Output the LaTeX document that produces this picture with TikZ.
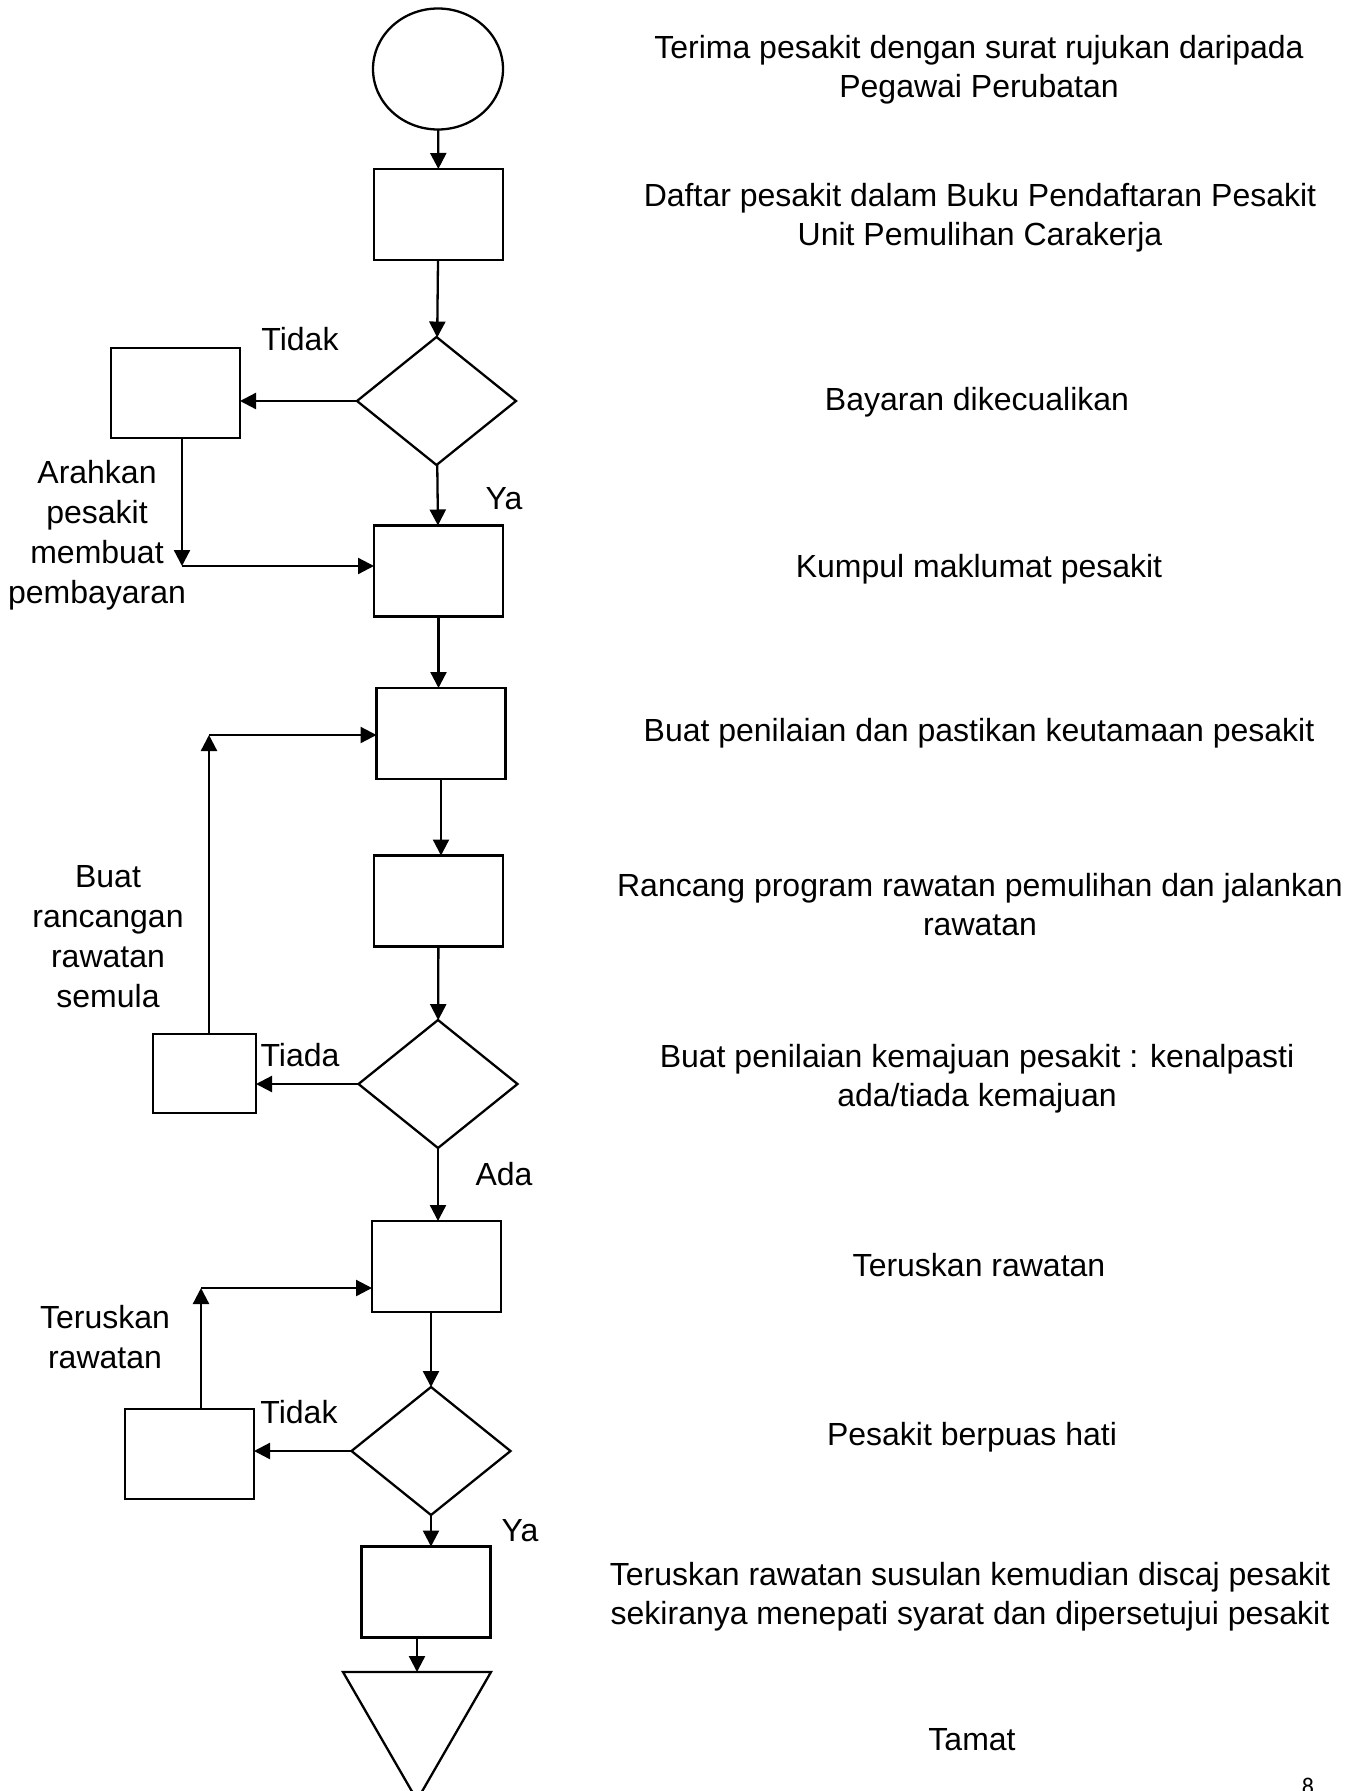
\documentclass[tikz,border=0pt]{standalone}
\usepackage{fontspec}
\setmainfont{Liberation Sans}
\newfontfamily\pagefont{Carlito}
\usepackage{tikz}
\usetikzlibrary{shapes,arrows,arrows.meta}

\begin{document}
\begin{tikzpicture}[x=0.5pt, y=-0.5pt, line width=1.15pt]%
  \tikzset{flow/.style={draw,-{Triangle[length=8pt,width=8pt]},line width=1.15pt}}
  \tikzset{stepbox/.style={draw,rectangle,minimum width=64.5pt,minimum height=45.5pt}}
  \tikzset{sidebox/.style={draw,rectangle,minimum width=64.5pt,minimum height=45pt}}
  \tikzset{decision/.style={draw,diamond,minimum width=79.5pt,minimum height=64pt}}
  \tikzset{note/.style={yshift=-2pt}}
  \tikzstyle{every node}=[inner sep=0pt, outer sep=0pt, align=center, font=\fontsize{16}{19.5}\selectfont]

  \useasboundingbox (0,0) rectangle (1356,1791);

  % main column
  \node[draw,ellipse,minimum width=65pt,minimum height=60.5pt] at (438,69) (mula) {};
  \node[stepbox] at (438.5,214.5) (daftar) {};
  \node[decision] at (436.5,401) (bayar) {};
  \node[stepbox] at (438.5,571) (kumpul) {};
  \node[stepbox] at (441,733.5) (nilai) {};
  \node[stepbox] at (438.5,901) (rancang) {};
  \node[decision] at (438,1084) (kemajuan) {};
  \node[stepbox] at (436.5,1266.5) (terus) {};
  \node[decision] at (431,1451) (puas) {};
  \node[stepbox] at (426,1592) (susulan) {};
  \node[draw,regular polygon,regular polygon sides=3,shape border rotate=180,minimum size=85.45pt] at (417,1714.7) (tamat) {};
  \coordinate (tamatAtas) at (417,1672);

  % side column
  \node[sidebox] at (175.5,393) (arah) {};
  \node[draw,rectangle,minimum width=51.5pt,minimum height=39.5pt] at (204.5,1073.5) (semula) {};
  \node[sidebox] at (189.5,1454) (ulang) {};

  \coordinate (j1) at (182,566);
  \coordinate (j2) at (209,735);
  \coordinate (j3) at (201,1288);

  % answers
  \node[note] at (300,335) (tidak1) {Tidak};
  \node[note] at (504,495) (ya1) {Ya};
  \node[note] at (300,1051) (tiada) {Tiada};
  \node[note] at (504,1170) (ada) {Ada};
  \node[note] at (299,1408) (tidak2) {Tidak};
  \node[note] at (520,1527) (ya2) {Ya};

  % side notes
  \node[note,font=\fontsize{16}{20}\selectfont] at (97,531) (nArah) {Arahkan\\pesakit\\membuat\\pembayaran};
  \node[note,font=\fontsize{16}{20}\selectfont] at (108,933) (nSemula) {Buat\\rancangan\\rawatan\\semula};
  \node[note,font=\fontsize{16}{20}\selectfont] at (105,1333) (nUlang) {Teruskan\\rawatan};

  % descriptions
  \node[note] at (979,65.5) (tMula) {Terima pesakit dengan surat rujukan daripada\\Pegawai Perubatan};
  \node[note] at (980,213.5) (tDaftar) {Daftar pesakit dalam Buku Pendaftaran Pesakit\\Unit Pemulihan Carakerja};
  \node[note] at (977,398) (tBayar) {Bayaran dikecualikan};
  \node[note] at (979,565) (tKumpul) {Kumpul maklumat pesakit};
  \node[note] at (979,729) (tNilai) {Buat penilaian dan pastikan keutamaan pesakit};
  \node[note] at (980,900.5) (tRancang) {Rancang program rawatan pemulihan dan jalankan\\rawatan};
  \node[note] at (977,1075) (tKemajuan) {Buat penilaian kemajuan pesakit : kenalpasti\\ada/tiada kemajuan};
  \node[note] at (979,1261) (tTerus) {Teruskan rawatan};
  \node[note] at (972,1433) (tPuas) {Pesakit berpuas hati};
  \node[note] at (970,1592.5) (tSusulan) {Teruskan rawatan susulan kemudian discaj pesakit\\sekiranya menepati syarat dan dipersetujui pesakit};
  \node[note] at (972,1736) (tTamat) {Tamat};
  \node[font=\pagefont\fontsize{12}{14}\selectfont] at (1308,1786) (muka) {8};

  \path[flow] (mula) -- (daftar);
  \path[flow] (daftar) -- (bayar);
  \path[flow] (bayar.west) -- (bayar.west -| arah.east);
  \path[flow] (arah.south -| j1) -- (j1);
  \path[flow] (j1) -- (j1 -| kumpul.west);
  \path[flow] (bayar) -- (kumpul);
  \path[flow] (kumpul) -- (nilai.north -| kumpul);
  \path[flow] (nilai) -- (rancang.north -| nilai);
  \path[flow] (rancang) -- (kemajuan);
  \path[flow] (kemajuan.west) -- (kemajuan.west -| semula.east);
  \path[flow] (semula.north -| j2) -- (j2);
  \path[flow] (j2) -- (j2 -| nilai.west);
  \path[flow] (kemajuan) -- (terus.north -| kemajuan);
  \path[flow] (terus.south -| puas) -- (puas);
  \path[flow] (puas.west) -- (puas.west -| ulang.east);
  \path[flow] (ulang.north -| j3) -- (j3);
  \path[flow] (j3) -- (j3 -| terus.west);
  \path[flow] (puas) -- (susulan.north -| puas);
  \path[flow] (susulan.south -| tamatAtas) -- (tamatAtas);
\end{tikzpicture}
\end{document}
